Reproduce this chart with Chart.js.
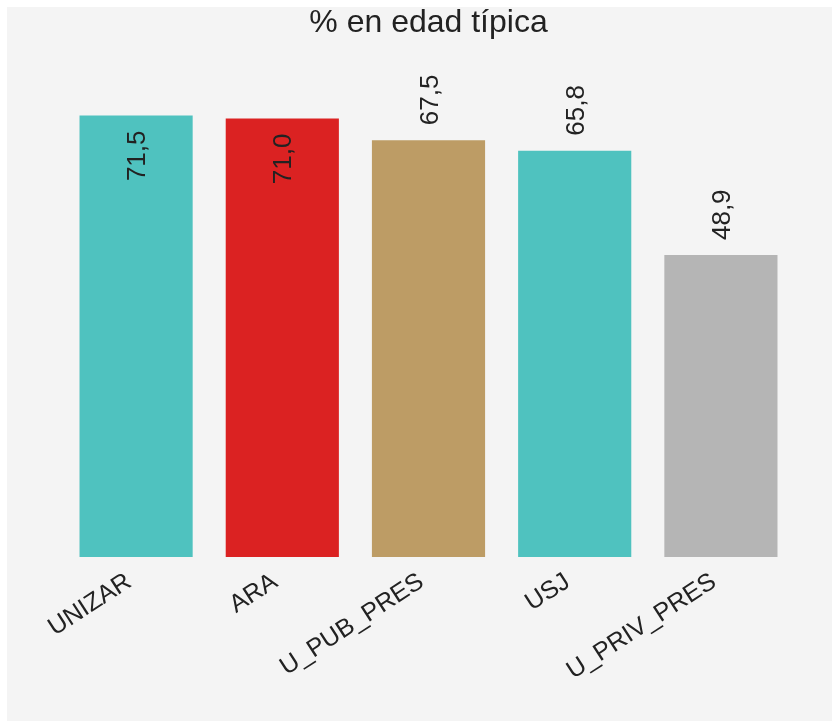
<!DOCTYPE html>
<html>
<head>
<meta charset="utf-8">
<script src="https://cdn.jsdelivr.net/npm/chart.js@4.4.0/dist/chart.umd.min.js"></script>
<style>
  html, body { margin: 0; padding: 0; background: #ffffff; }
  #panel { position: absolute; left: 7px; top: 7px; width: 825px; height: 714px; background: #f4f4f4; }
</style>
</head>
<body>
<div id="panel"><canvas id="grafico" width="825" height="714"></canvas></div>
<script>
const categorias = ['UNIZAR', 'ARA', 'U_PUB_PRES', 'USJ', 'U_PRIV_PRES'];
const valores = [71.5, 71.0, 67.5, 65.8, 48.9];
const colores = ['#4fc2bf', '#db2222', '#bd9c65', '#4fc2bf', '#b5b5b5'];
const titulo = '% en edad típica';

const fuente = "'Liberation Sans', Arial, sans-serif";

// etiquetas de valor giradas: dentro de la barra si no caben encima
const etiquetasValor = {
    id: 'etiquetasValor',
    afterDatasetsDraw(chart) {
        const ctx = chart.ctx;
        const area = chart.chartArea;
        const meta = chart.getDatasetMeta(0);
        ctx.save();
        ctx.font = '26px ' + fuente;
        ctx.fillStyle = '#222222';
        ctx.textBaseline = 'middle';
        meta.data.forEach((bar, i) => {
            const texto = valores[i].toFixed(1).replace('.', ',');
            const w = ctx.measureText(texto).width;
            const gap = 15;
            ctx.save();
            ctx.translate(bar.x + 2, 0);
            ctx.rotate(-Math.PI / 2);
            if (bar.y - gap - w < area.top) {
                ctx.textAlign = 'right';
                ctx.fillText(texto, -(bar.y + gap), 0);
            } else {
                ctx.textAlign = 'left';
                ctx.fillText(texto, -(bar.y - gap), 0);
            }
            ctx.restore();
        });
        ctx.restore();
    }
};

new Chart(document.getElementById('grafico').getContext('2d'), {
    type: 'bar',
    data: {
        labels: categorias,
        datasets: [{
            data: valores,
            backgroundColor: colores,
            borderWidth: 0,
            barPercentage: 0.774,
            categoryPercentage: 1
        }]
    },
    options: {
        responsive: false,
        animation: false,
        layout: { padding: { left: 56, right: 38, top: 0, bottom: 0 } },
        plugins: {
            legend: { display: false },
            tooltip: { enabled: false },
            title: {
                display: true,
                text: titulo,
                color: '#222222',
                font: { family: fuente, size: 32, weight: 'normal', lineHeight: 1.0 },
                padding: { top: 0, bottom: 24 }
            }
        },
        scales: {
            x: {
                grid: { display: false, drawTicks: false },
                border: { display: false },
                ticks: {
                    color: '#222222',
                    font: { family: fuente, size: 25 },
                    minRotation: 33,
                    maxRotation: 33,
                    padding: 10,
                    labelOffset: -7
                },
                afterFit(scale) { scale.height = 164; }
            },
            y: {
                display: false,
                min: 0,
                max: 80
            }
        }
    },
    plugins: [etiquetasValor]
});
</script>
</body>
</html>
